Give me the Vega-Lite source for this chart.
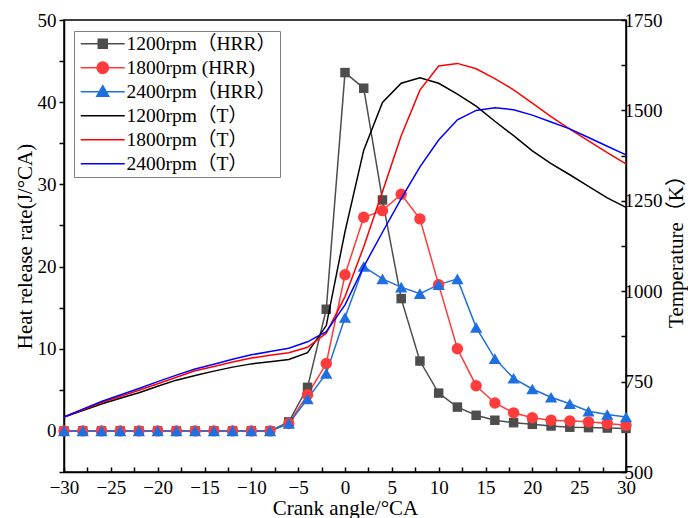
{
  "$schema": "https://vega.github.io/schema/vega-lite/v6.json",
  "width": 562,
  "height": 452,
  "autosize": {"type": "none"},
  "padding": {"left": 64, "top": 20, "right": 62, "bottom": 46},
  "background": "white",
  "config": {
    "view": {"stroke": "black", "strokeWidth": 1.5},
    "font": "Liberation Serif",
    "axis": {
      "domainColor": "black", "domainWidth": 1.5, "tickColor": "black", "tickWidth": 1.5,
      "labelFont": "Liberation Serif", "labelColor": "black", "labelFontSize": 19,
      "titleFont": "Liberation Serif, Noto Sans CJK SC", "titleColor": "black", "titleFontSize": 21, "titleFontWeight": "normal",
      "grid": false, "labelOverlap": false, "labelFlush": false
    },
    "legend": {
      "orient": "none", "legendX": 10, "legendY": 11,
      "strokeColor": "#808080", "fillColor": "white", "padding": 3,
      "labelFont": "Liberation Serif, Noto Sans CJK SC", "labelFontSize": 19.5, "labelColor": "black",
      "symbolSize": 144, "symbolStrokeWidth": 1.5, "labelOffset": 30, "rowPadding": 3, "labelLimit": 0
    }
  },
  "datasets": {
    "hrr": [
      {"a": -30, "s": "1200rpm（HRR）", "hrr": 0}, {"a": -28, "s": "1200rpm（HRR）", "hrr": 0}, {"a": -26, "s": "1200rpm（HRR）", "hrr": 0}, {"a": -24, "s": "1200rpm（HRR）", "hrr": 0},
      {"a": -22, "s": "1200rpm（HRR）", "hrr": 0}, {"a": -20, "s": "1200rpm（HRR）", "hrr": 0}, {"a": -18, "s": "1200rpm（HRR）", "hrr": 0}, {"a": -16, "s": "1200rpm（HRR）", "hrr": 0},
      {"a": -14, "s": "1200rpm（HRR）", "hrr": 0}, {"a": -12, "s": "1200rpm（HRR）", "hrr": 0}, {"a": -10, "s": "1200rpm（HRR）", "hrr": 0}, {"a": -8, "s": "1200rpm（HRR）", "hrr": 0},
      {"a": -6, "s": "1200rpm（HRR）", "hrr": 1.1}, {"a": -4, "s": "1200rpm（HRR）", "hrr": 5.3}, {"a": -2, "s": "1200rpm（HRR）", "hrr": 14.8}, {"a": 0, "s": "1200rpm（HRR）", "hrr": 43.6},
      {"a": 2, "s": "1200rpm（HRR）", "hrr": 41.7}, {"a": 4, "s": "1200rpm（HRR）", "hrr": 28.1}, {"a": 6, "s": "1200rpm（HRR）", "hrr": 16.1}, {"a": 8, "s": "1200rpm（HRR）", "hrr": 8.5},
      {"a": 10, "s": "1200rpm（HRR）", "hrr": 4.6}, {"a": 12, "s": "1200rpm（HRR）", "hrr": 2.9}, {"a": 14, "s": "1200rpm（HRR）", "hrr": 1.9}, {"a": 16, "s": "1200rpm（HRR）", "hrr": 1.3},
      {"a": 18, "s": "1200rpm（HRR）", "hrr": 1.0}, {"a": 20, "s": "1200rpm（HRR）", "hrr": 0.8}, {"a": 22, "s": "1200rpm（HRR）", "hrr": 0.6}, {"a": 24, "s": "1200rpm（HRR）", "hrr": 0.45},
      {"a": 26, "s": "1200rpm（HRR）", "hrr": 0.4}, {"a": 28, "s": "1200rpm（HRR）", "hrr": 0.35}, {"a": 30, "s": "1200rpm（HRR）", "hrr": 0.3},

      {"a": -30, "s": "1800rpm (HRR)", "hrr": 0}, {"a": -28, "s": "1800rpm (HRR)", "hrr": 0}, {"a": -26, "s": "1800rpm (HRR)", "hrr": 0}, {"a": -24, "s": "1800rpm (HRR)", "hrr": 0},
      {"a": -22, "s": "1800rpm (HRR)", "hrr": 0}, {"a": -20, "s": "1800rpm (HRR)", "hrr": 0}, {"a": -18, "s": "1800rpm (HRR)", "hrr": 0}, {"a": -16, "s": "1800rpm (HRR)", "hrr": 0},
      {"a": -14, "s": "1800rpm (HRR)", "hrr": 0}, {"a": -12, "s": "1800rpm (HRR)", "hrr": 0}, {"a": -10, "s": "1800rpm (HRR)", "hrr": 0}, {"a": -8, "s": "1800rpm (HRR)", "hrr": 0},
      {"a": -6, "s": "1800rpm (HRR)", "hrr": 0.9}, {"a": -4, "s": "1800rpm (HRR)", "hrr": 4.4}, {"a": -2, "s": "1800rpm (HRR)", "hrr": 8.2}, {"a": 0, "s": "1800rpm (HRR)", "hrr": 19.0},
      {"a": 2, "s": "1800rpm (HRR)", "hrr": 26.0}, {"a": 4, "s": "1800rpm (HRR)", "hrr": 26.8}, {"a": 6, "s": "1800rpm (HRR)", "hrr": 28.8}, {"a": 8, "s": "1800rpm (HRR)", "hrr": 25.8},
      {"a": 10, "s": "1800rpm (HRR)", "hrr": 17.8}, {"a": 12, "s": "1800rpm (HRR)", "hrr": 10.0}, {"a": 14, "s": "1800rpm (HRR)", "hrr": 5.5}, {"a": 16, "s": "1800rpm (HRR)", "hrr": 3.4},
      {"a": 18, "s": "1800rpm (HRR)", "hrr": 2.2}, {"a": 20, "s": "1800rpm (HRR)", "hrr": 1.6}, {"a": 22, "s": "1800rpm (HRR)", "hrr": 1.3}, {"a": 24, "s": "1800rpm (HRR)", "hrr": 1.2},
      {"a": 26, "s": "1800rpm (HRR)", "hrr": 1.1}, {"a": 28, "s": "1800rpm (HRR)", "hrr": 0.9}, {"a": 30, "s": "1800rpm (HRR)", "hrr": 0.7},

      {"a": -30, "s": "2400rpm（HRR）", "hrr": 0}, {"a": -28, "s": "2400rpm（HRR）", "hrr": 0}, {"a": -26, "s": "2400rpm（HRR）", "hrr": 0}, {"a": -24, "s": "2400rpm（HRR）", "hrr": 0},
      {"a": -22, "s": "2400rpm（HRR）", "hrr": 0}, {"a": -20, "s": "2400rpm（HRR）", "hrr": 0}, {"a": -18, "s": "2400rpm（HRR）", "hrr": 0}, {"a": -16, "s": "2400rpm（HRR）", "hrr": 0},
      {"a": -14, "s": "2400rpm（HRR）", "hrr": 0}, {"a": -12, "s": "2400rpm（HRR）", "hrr": 0}, {"a": -10, "s": "2400rpm（HRR）", "hrr": 0}, {"a": -8, "s": "2400rpm（HRR）", "hrr": 0},
      {"a": -6, "s": "2400rpm（HRR）", "hrr": 0.9}, {"a": -4, "s": "2400rpm（HRR）", "hrr": 3.9}, {"a": -2, "s": "2400rpm（HRR）", "hrr": 7.0}, {"a": 0, "s": "2400rpm（HRR）", "hrr": 13.8},
      {"a": 2, "s": "2400rpm（HRR）", "hrr": 20.0}, {"a": 4, "s": "2400rpm（HRR）", "hrr": 18.5}, {"a": 6, "s": "2400rpm（HRR）", "hrr": 17.5}, {"a": 8, "s": "2400rpm（HRR）", "hrr": 16.7},
      {"a": 10, "s": "2400rpm（HRR）", "hrr": 17.8}, {"a": 12, "s": "2400rpm（HRR）", "hrr": 18.5}, {"a": 14, "s": "2400rpm（HRR）", "hrr": 12.6}, {"a": 16, "s": "2400rpm（HRR）", "hrr": 8.8},
      {"a": 18, "s": "2400rpm（HRR）", "hrr": 6.4}, {"a": 20, "s": "2400rpm（HRR）", "hrr": 5.1}, {"a": 22, "s": "2400rpm（HRR）", "hrr": 4.1}, {"a": 24, "s": "2400rpm（HRR）", "hrr": 3.3},
      {"a": 26, "s": "2400rpm（HRR）", "hrr": 2.4}, {"a": 28, "s": "2400rpm（HRR）", "hrr": 2.0}, {"a": 30, "s": "2400rpm（HRR）", "hrr": 1.7}
    ],
    "temp": [
      {"a": -30, "s": "1200rpm（T）", "t": 652}, {"a": -28, "s": "1200rpm（T）", "t": 670}, {"a": -26, "s": "1200rpm（T）", "t": 688}, {"a": -24, "s": "1200rpm（T）", "t": 704},
      {"a": -22, "s": "1200rpm（T）", "t": 719}, {"a": -20, "s": "1200rpm（T）", "t": 737}, {"a": -18, "s": "1200rpm（T）", "t": 754}, {"a": -16, "s": "1200rpm（T）", "t": 767},
      {"a": -14, "s": "1200rpm（T）", "t": 779}, {"a": -12, "s": "1200rpm（T）", "t": 790}, {"a": -10, "s": "1200rpm（T）", "t": 799}, {"a": -8, "s": "1200rpm（T）", "t": 805},
      {"a": -6, "s": "1200rpm（T）", "t": 811}, {"a": -4, "s": "1200rpm（T）", "t": 830}, {"a": -2, "s": "1200rpm（T）", "t": 905}, {"a": 0, "s": "1200rpm（T）", "t": 1165},
      {"a": 2, "s": "1200rpm（T）", "t": 1390}, {"a": 4, "s": "1200rpm（T）", "t": 1522}, {"a": 6, "s": "1200rpm（T）", "t": 1575}, {"a": 8, "s": "1200rpm（T）", "t": 1590},
      {"a": 10, "s": "1200rpm（T）", "t": 1575}, {"a": 12, "s": "1200rpm（T）", "t": 1545}, {"a": 14, "s": "1200rpm（T）", "t": 1512}, {"a": 16, "s": "1200rpm（T）", "t": 1470},
      {"a": 18, "s": "1200rpm（T）", "t": 1430}, {"a": 20, "s": "1200rpm（T）", "t": 1388}, {"a": 22, "s": "1200rpm（T）", "t": 1353}, {"a": 24, "s": "1200rpm（T）", "t": 1322},
      {"a": 26, "s": "1200rpm（T）", "t": 1290}, {"a": 28, "s": "1200rpm（T）", "t": 1258}, {"a": 30, "s": "1200rpm（T）", "t": 1232},

      {"a": -30, "s": "1800rpm（T）", "t": 652}, {"a": -28, "s": "1800rpm（T）", "t": 672}, {"a": -26, "s": "1800rpm（T）", "t": 692}, {"a": -24, "s": "1800rpm（T）", "t": 709},
      {"a": -22, "s": "1800rpm（T）", "t": 726}, {"a": -20, "s": "1800rpm（T）", "t": 744}, {"a": -18, "s": "1800rpm（T）", "t": 762}, {"a": -16, "s": "1800rpm（T）", "t": 780},
      {"a": -14, "s": "1800rpm（T）", "t": 792}, {"a": -12, "s": "1800rpm（T）", "t": 804}, {"a": -10, "s": "1800rpm（T）", "t": 815}, {"a": -8, "s": "1800rpm（T）", "t": 823},
      {"a": -6, "s": "1800rpm（T）", "t": 830}, {"a": -4, "s": "1800rpm（T）", "t": 845}, {"a": -2, "s": "1800rpm（T）", "t": 884}, {"a": 0, "s": "1800rpm（T）", "t": 985},
      {"a": 2, "s": "1800rpm（T）", "t": 1123}, {"a": 4, "s": "1800rpm（T）", "t": 1275}, {"a": 6, "s": "1800rpm（T）", "t": 1430}, {"a": 8, "s": "1800rpm（T）", "t": 1556},
      {"a": 10, "s": "1800rpm（T）", "t": 1623}, {"a": 12, "s": "1800rpm（T）", "t": 1630}, {"a": 14, "s": "1800rpm（T）", "t": 1615}, {"a": 16, "s": "1800rpm（T）", "t": 1588},
      {"a": 18, "s": "1800rpm（T）", "t": 1557}, {"a": 20, "s": "1800rpm（T）", "t": 1520}, {"a": 22, "s": "1800rpm（T）", "t": 1483}, {"a": 24, "s": "1800rpm（T）", "t": 1448},
      {"a": 26, "s": "1800rpm（T）", "t": 1416}, {"a": 28, "s": "1800rpm（T）", "t": 1383}, {"a": 30, "s": "1800rpm（T）", "t": 1352},

      {"a": -30, "s": "2400rpm（T）", "t": 652}, {"a": -28, "s": "2400rpm（T）", "t": 674}, {"a": -26, "s": "2400rpm（T）", "t": 695}, {"a": -24, "s": "2400rpm（T）", "t": 713},
      {"a": -22, "s": "2400rpm（T）", "t": 731}, {"a": -20, "s": "2400rpm（T）", "t": 750}, {"a": -18, "s": "2400rpm（T）", "t": 768}, {"a": -16, "s": "2400rpm（T）", "t": 785},
      {"a": -14, "s": "2400rpm（T）", "t": 798}, {"a": -12, "s": "2400rpm（T）", "t": 812}, {"a": -10, "s": "2400rpm（T）", "t": 824}, {"a": -8, "s": "2400rpm（T）", "t": 833},
      {"a": -6, "s": "2400rpm（T）", "t": 842}, {"a": -4, "s": "2400rpm（T）", "t": 860}, {"a": -2, "s": "2400rpm（T）", "t": 888}, {"a": 0, "s": "2400rpm（T）", "t": 962},
      {"a": 2, "s": "2400rpm（T）", "t": 1068}, {"a": 4, "s": "2400rpm（T）", "t": 1163}, {"a": 6, "s": "2400rpm（T）", "t": 1256}, {"a": 8, "s": "2400rpm（T）", "t": 1344},
      {"a": 10, "s": "2400rpm（T）", "t": 1418}, {"a": 12, "s": "2400rpm（T）", "t": 1474}, {"a": 14, "s": "2400rpm（T）", "t": 1500}, {"a": 16, "s": "2400rpm（T）", "t": 1507},
      {"a": 18, "s": "2400rpm（T）", "t": 1502}, {"a": 20, "s": "2400rpm（T）", "t": 1487}, {"a": 22, "s": "2400rpm（T）", "t": 1468}, {"a": 24, "s": "2400rpm（T）", "t": 1449},
      {"a": 26, "s": "2400rpm（T）", "t": 1425}, {"a": 28, "s": "2400rpm（T）", "t": 1401}, {"a": 30, "s": "2400rpm（T）", "t": 1377}
    ],
    "keys": [
      {"s": "1200rpm（HRR）"}, {"s": "1800rpm (HRR)"}, {"s": "2400rpm（HRR）"},
      {"s": "1200rpm（T）"}, {"s": "1800rpm（T）"}, {"s": "2400rpm（T）"}
    ]
  },
  "encoding": {
    "x": {
      "field": "a", "type": "quantitative",
      "scale": {"domain": [-30, 30], "nice": false, "zero": false},
      "axis": {
        "title": "Crank angle/°CA",
        "values": [-30, -27.5, -25, -22.5, -20, -17.5, -15, -12.5, -10, -7.5, -5, -2.5, 0, 2.5, 5, 7.5, 10, 12.5, 15, 17.5, 20, 22.5, 25, 27.5, 30],
        "labelExpr": "datum.value % 5 === 0 ? datum.label : ''",
        "tickSize": -5, "labelPadding": 11, "titlePadding": 0
      }
    }
  },
  "layer": [
    {
      "data": {"name": "hrr"},
      "encoding": {
        "y": {
          "field": "hrr", "type": "quantitative",
          "scale": {"domain": [-5, 50], "nice": false, "zero": false},
          "axis": {
            "title": "Heat release rate(J/°CA)",
            "values": [-5, 0, 5, 10, 15, 20, 25, 30, 35, 40, 45, 50],
            "labelExpr": "datum.value % 10 === 0 ? datum.label : ''",
            "tickSize": 5, "labelPadding": 3, "titlePadding": 2
          }
        },
        "color": {
          "field": "s", "type": "nominal",
          "scale": {
            "domain": ["1200rpm（HRR）", "1800rpm (HRR)", "2400rpm（HRR）", "1200rpm（T）", "1800rpm（T）", "2400rpm（T）"],
            "range": ["#4d4d4d", "#ff3b3b", "#1e6fe0", "#000000", "#ff0000", "#0000ff"]
          },
          "legend": null
        }
      },
      "layer": [
        {"mark": {"type": "line", "strokeWidth": 1.5}},
        {
          "transform": [{"filter": {"field": "s", "equal": "1200rpm（HRR）"}}],
          "mark": {"type": "point", "shape": "square", "filled": true, "size": 90, "opacity": 1}
        },
        {
          "transform": [{"filter": {"field": "s", "equal": "1800rpm (HRR)"}}],
          "mark": {"type": "point", "shape": "circle", "filled": true, "size": 130, "opacity": 1}
        },
        {
          "transform": [{"filter": {"field": "s", "equal": "2400rpm（HRR）"}}],
          "mark": {"type": "point", "shape": "triangle-up", "filled": true, "size": 150, "opacity": 1}
        },
        {
          "data": {"name": "keys"},
          "mark": {"type": "point", "filled": true, "opacity": 1, "strokeWidth": 1.5},
          "encoding": {
            "color": {
              "field": "s", "type": "nominal",
              "scale": {
                "domain": ["1200rpm（HRR）", "1800rpm (HRR)", "2400rpm（HRR）", "1200rpm（T）", "1800rpm（T）", "2400rpm（T）"],
                "range": ["#4d4d4d", "#ff3b3b", "#1e6fe0", "#000000", "#ff0000", "#0000ff"]
              },
              "legend": {"title": null}
            },
            "stroke": {
              "field": "s", "type": "nominal",
              "scale": {
                "domain": ["1200rpm（HRR）", "1800rpm (HRR)", "2400rpm（HRR）", "1200rpm（T）", "1800rpm（T）", "2400rpm（T）"],
                "range": ["#4d4d4d", "#ff3b3b", "#1e6fe0", "#000000", "#ff0000", "#0000ff"]
              },
              "legend": {"title": null}
            },
            "shape": {
              "field": "s", "type": "nominal",
              "scale": {
                "domain": ["1200rpm（HRR）", "1800rpm (HRR)", "2400rpm（HRR）", "1200rpm（T）", "1800rpm（T）", "2400rpm（T）"],
                "range": [
                  "M-1,0H6.33M1.92,-0.75H3.42V0.75H1.92Z",
                  "M-1,0H6.33M1.72,0A0.95,0.95 0 1,0 3.62,0A0.95,0.95 0 1,0 1.72,0Z",
                  "M-1,0H6.33M2.67,-1L3.67,0.73L1.67,0.73Z",
                  "M-1,0H6.33",
                  "M-1,0H6.33",
                  "M-1,0H6.33"
                ]
              },
              "legend": {"title": null}
            }
          }
        }
      ],
      "resolve": {"legend": {"color": "independent", "shape": "independent", "stroke": "independent"}}
    },
    {
      "data": {"name": "temp"},
      "mark": {"type": "line", "strokeWidth": 1.5},
      "encoding": {
        "y": {
          "field": "t", "type": "quantitative",
          "scale": {"domain": [500, 1750], "nice": false, "zero": false},
          "axis": {
            "orient": "right",
            "title": "Temperature（K）",
            "titleAngle": 270,
            "values": [500, 625, 750, 875, 1000, 1125, 1250, 1375, 1500, 1625, 1750],
            "labelExpr": "datum.value % 250 === 0 ? datum.label : ''",
            "format": "d",
            "tickSize": -5, "labelPadding": 3, "titlePadding": 24
          }
        },
        "color": {
          "field": "s", "type": "nominal",
          "scale": {
            "domain": ["1200rpm（HRR）", "1800rpm (HRR)", "2400rpm（HRR）", "1200rpm（T）", "1800rpm（T）", "2400rpm（T）"],
            "range": ["#4d4d4d", "#ff3b3b", "#1e6fe0", "#000000", "#ff0000", "#0000ff"]
          },
          "legend": null
        }
      }
    }
  ],
  "resolve": {"scale": {"y": "independent"}, "legend": {"color": "independent", "shape": "independent", "stroke": "independent"}}
}
